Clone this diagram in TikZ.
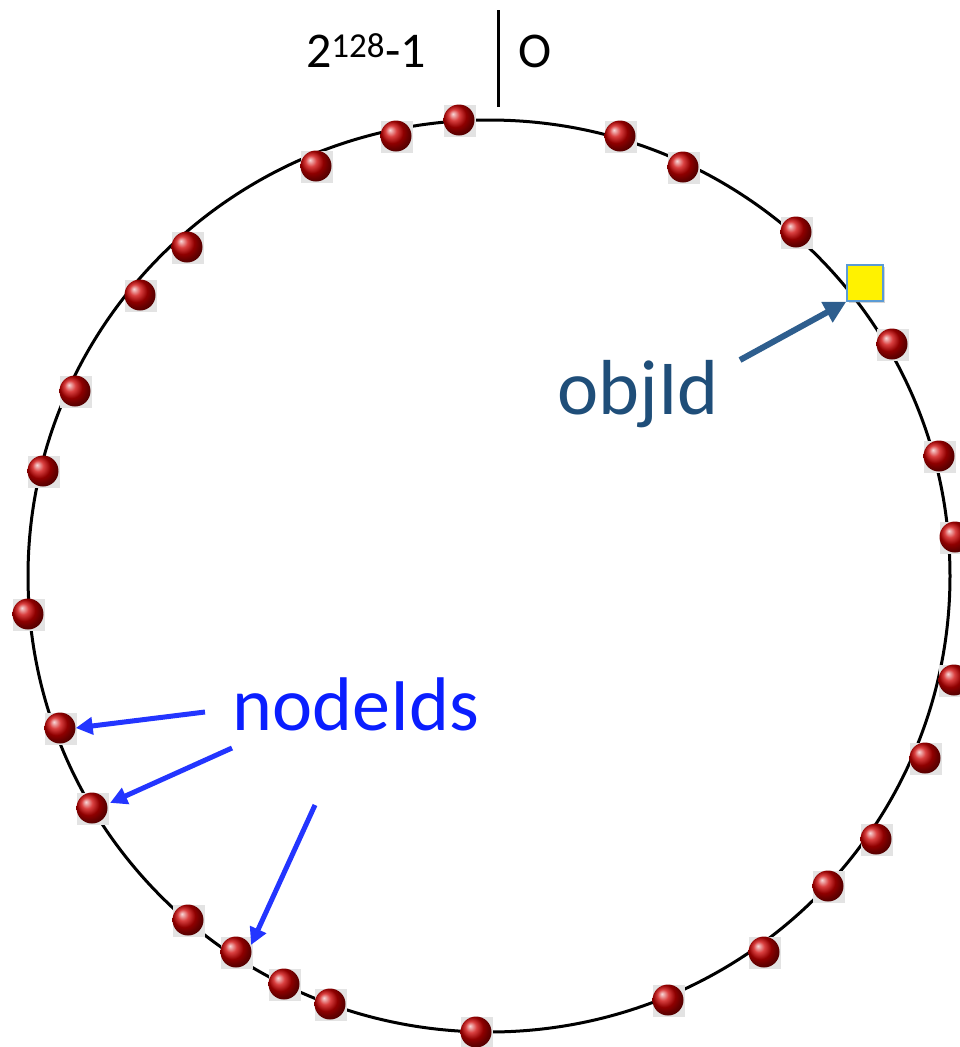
\documentclass[tikz,border=0pt]{standalone}
\usepackage{fontspec}
\setmainfont{Carlito}
\usetikzlibrary{arrows.meta,shadings,shadows}
\definecolor{objblue}{RGB}{31,78,121}
\definecolor{objarrow}{RGB}{46,94,142}
\definecolor{nodeblue}{RGB}{10,30,255}
\definecolor{sqborder}{RGB}{91,155,213}
\tikzset{
  ring/.style={draw=black, line width=3pt},
  ballbg/.style={fill=gray!22, draw=none, minimum size=32pt, inner sep=0pt, rectangle},
  ball/.style={circle, minimum size=31pt, inner sep=0pt, shading=ball, ball color=red!80!black},
  objsq/.style={rectangle, minimum size=36pt, inner sep=0pt, fill=yellow, draw=sqborder, line width=1.5pt, drop shadow={opacity=0.35, shadow xshift=2pt, shadow yshift=-2pt}},
  objarr/.style={draw=objarrow, line width=6pt, -{Triangle[length=22pt,width=22pt]}},
  nodearr/.style={draw=nodeblue!90!white, line width=5pt, -{Triangle[length=17pt,width=17pt]}},
  lbl/.style={font=\fontsize{50}{54}\selectfont, anchor=base, inner sep=0pt}
}
\begin{document}
\begin{tikzpicture}[x=1pt,y=-1pt]
\useasboundingbox (0,0) rectangle (960,1047);
\draw[ring] (489,576) ellipse [x radius=461, y radius=456];
\coordinate (lt) at (498,10);
\coordinate (lb) at (498,107);
\draw[line width=3pt] (lt) -- (lb);
\node[lbl] (max) at (366,67) {2\textsuperscript{128}-1};
\node[lbl] (zero) at (535,67) {O};
\foreach \n/\x/\y in {
 b1/459/120, b2/396/136, b3/316/166, b4/187/247, b5/140/295, b6/75/391,
 b7/43/471, b8/28/614, b9/60/728, b10/92/808, b11/188/920, b12/236/952,
 b13/284/984, b14/330/1004, b15/476/1032, b16/668/1000, b17/764/952,
 b18/828/886, b19/876/839, b20/925/758, b21/954/680, b22/955/537,
 b23/939/456, b24/892/344, b25/796/232, b26/683/167, b27/620/136}{
  \node[ballbg] at (\x+1,\y+1) {};
  \node[ball] (\n) at (\x,\y) {};
}
\node[objsq] (obj) at (865,283) {};
\node[lbl, text=objblue, font=\fontsize{78}{84}\selectfont] (objtxt) at (638,414) {objId};
\node[lbl, text=nodeblue, font=\fontsize{76}{82}\selectfont] (ntxt) at (356,730) {nodeIds};
\coordinate (oa) at (740,360);
\draw[objarr] (oa) -- (obj.south west);
\coordinate (n1) at (205,712);
\coordinate (n2) at (232,748);
\coordinate (n3) at (315,805);
\draw[nodearr] (n1) -- (b9.east);
\draw[nodearr] (n2) -- ([xshift=7pt,yshift=-6pt]b10.north east);
\draw[nodearr] (n3) -- ([xshift=4pt,yshift=-4pt]b12.north east);
\end{tikzpicture}
\end{document}
